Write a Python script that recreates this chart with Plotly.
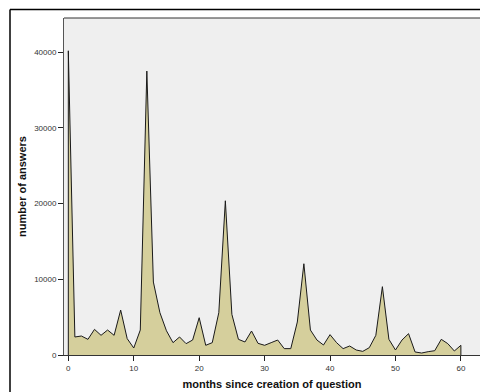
import plotly.graph_objects as go

months = list(range(0, 61))
answers = [40200, 2380, 2510, 2070, 3390, 2600, 3300, 2600, 5940, 2160,
           925, 3300, 37520, 9640, 5590, 3200, 1630, 2380, 1500, 1980,
           4930, 1280, 1630, 5590, 20380, 5370, 2070, 1720, 3170, 1540,
           1280, 1630, 1980, 840, 840, 4360, 12060, 3300, 1980, 1320,
           2690, 1630, 840, 1190, 660, 480, 970, 2600, 9030, 2070,
           660, 1980, 2820, 400, 260, 440, 570, 2070, 1500, 530,
           1280]
x_ticks = [0, 10, 20, 30, 40, 50, 60]
y_ticks = [0, 10000, 20000, 30000, 40000]

# closed outline: drop to the baseline at both ends
xs = [months[0]] + months + [months[-1]]
ys = [0] + answers + [0]

fig = go.Figure()
fig.add_trace(go.Scatter(
    x=xs, y=ys, mode="lines", fill="toself",
    fillcolor="#D5CF9C",
    line=dict(color="#1a1a1a", width=1),
    hoverinfo="skip", showlegend=False,
))

font_family = "Liberation Sans, Arial, sans-serif"
fig.update_layout(
    width=480, height=392,
    margin=dict(l=64, r=0, t=18, b=37),
    paper_bgcolor="white", plot_bgcolor="#EFEFEF",
    font=dict(family=font_family, color="#222"),
    xaxis=dict(
        range=[-0.66, 62.92], tickvals=x_ticks, ticks="outside", ticklen=5,
        tickcolor="#222", tickwidth=1, showgrid=False, zeroline=False,
        showline=True, linecolor="#333", linewidth=1,
        tickfont=dict(size=8, color="#333"),
        title=dict(text="<b>months since creation of question</b>",
                   font=dict(size=11, color="#111"), standoff=8),
    ),
    yaxis=dict(
        range=[0, 44533], tickvals=y_ticks, tickformat="d",
        ticks="outside", ticklen=5,
        tickcolor="#222", tickwidth=1, showgrid=False, zeroline=False,
        showline=True, linecolor="#555", linewidth=1,
        tickfont=dict(size=8, color="#333"),
        title=dict(text="<b>number of answers</b>",
                   font=dict(size=11, color="#111"), standoff=5),
    ),
    shapes=[
        dict(type="line", xref="paper", yref="paper", x0=0, x1=1.05,
             y0=1, y1=1, line=dict(color="#333", width=1), layer="above"),
        dict(type="line", xref="paper", yref="paper",
             x0=-0.1298, x1=-0.1298, y0=-0.2, y1=1.0252,
             line=dict(color="#000", width=1.5), layer="above"),
        dict(type="line", xref="paper", yref="paper",
             x0=-0.1298, x1=1.2, y0=1.0252, y1=1.0252,
             line=dict(color="#000", width=1.5), layer="above"),
    ],
)

fig.write_html(
    "out.html",
    config={"displayModeBar": False},
    post_script="document.body.style.margin='0';document.body.style.overflow='hidden';",
)
